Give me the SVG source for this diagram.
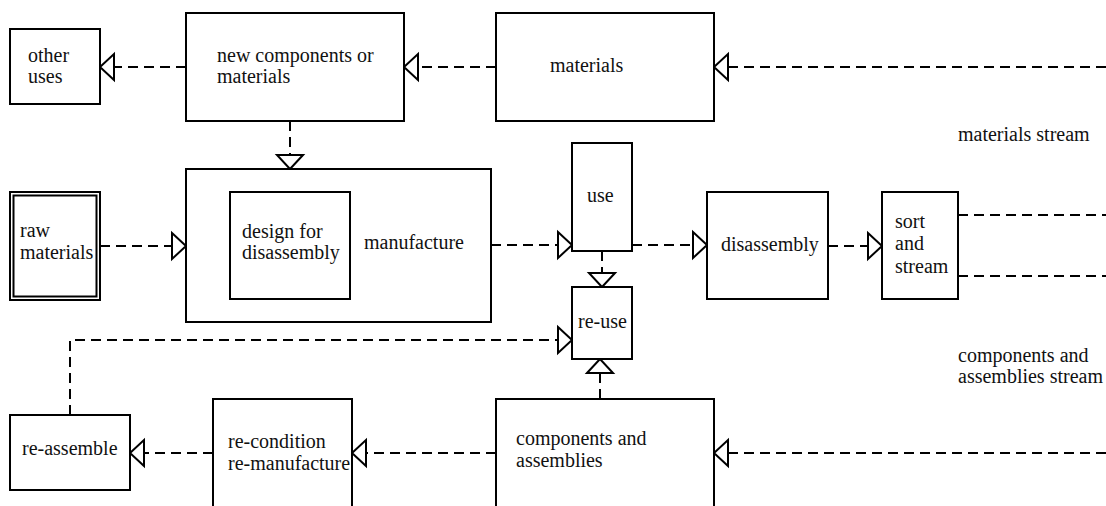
<svg xmlns="http://www.w3.org/2000/svg" width="1106" height="506" viewBox="0 0 1106 506">
  <style>
    .box { fill: #fff; stroke: #000; stroke-width: 2; }
    .lbl { font-family: "Liberation Serif", "Times New Roman", serif; font-size: 20px; fill: #111; }
    .flow { fill: none; stroke: #000; stroke-width: 2; stroke-dasharray: 10 6; }
    .arrow { marker-end: url(#tri); }
  </style>
  <defs>
    <!-- hollow triangular arrowhead -->
    <marker id="tri" viewBox="0 0 14 26" refX="14" refY="13" markerWidth="14" markerHeight="26" markerUnits="userSpaceOnUse" orient="auto" overflow="visible">
      <path d="M0,0 L14,13 L0,26 Z" fill="#fff" stroke="#000" stroke-width="2" stroke-dasharray="none" stroke-linejoin="miter"/>
    </marker>
  </defs>

  <rect width="1106" height="506" fill="#fff"/>

  <!-- connectors -->
  <g id="connectors">
    <path class="flow arrow" d="M186,67 H100"/>
    <path class="flow arrow" d="M496,67 H404"/>
    <path class="flow arrow" d="M1106,67 H714"/>
    <path class="flow arrow" d="M290,121 V169"/>
    <path class="flow arrow" d="M100,246 H186"/>
    <path class="flow arrow" d="M491,245 H572"/>
    <path class="flow arrow" d="M632,245 H707"/>
    <path class="flow arrow" d="M828,246 H882"/>
    <path class="flow" d="M958,215 H1106"/>
    <path class="flow" d="M958,276 H1106"/>
    <path class="flow arrow" d="M602,251 V287"/>
    <path class="flow arrow" d="M70,415 V340 H572"/>
    <path class="flow arrow" d="M600,399 V359"/>
    <path class="flow arrow" d="M213,453 H130"/>
    <path class="flow arrow" d="M496,453 H352"/>
    <path class="flow arrow" d="M1106,453 H714"/>
  </g>

  <g id="other-uses">
    <rect class="box" x="10" y="29" width="90" height="75"/>
    <text class="lbl" x="28" y="62">other</text>
    <text class="lbl" x="28" y="83">uses</text>
  </g>

  <g id="new-components">
    <rect class="box" x="186" y="13" width="218" height="108"/>
    <text class="lbl" x="217" y="62">new components or</text>
    <text class="lbl" x="217" y="83">materials</text>
  </g>

  <g id="materials">
    <rect class="box" x="496" y="13" width="218" height="108"/>
    <text class="lbl" x="550" y="72">materials</text>
  </g>

  <g id="materials-stream">
    <text class="lbl" x="958" y="141">materials stream</text>
  </g>

  <g id="raw-materials">
    <rect class="box" x="10" y="192" width="90" height="108"/>
    <rect class="box" x="13.5" y="195.5" width="83" height="101"/>
    <text class="lbl" x="20" y="237">raw</text>
    <text class="lbl" x="20" y="259">materials</text>
  </g>

  <g id="manufacture">
    <rect class="box" x="186" y="169" width="305" height="153"/>
    <text class="lbl" x="364" y="249">manufacture</text>
  </g>

  <g id="design-for-disassembly">
    <rect class="box" x="230" y="192" width="120" height="107"/>
    <text class="lbl" x="242" y="238">design for</text>
    <text class="lbl" x="242" y="259">disassembly</text>
  </g>

  <g id="use">
    <rect class="box" x="572" y="143" width="60" height="108"/>
    <text class="lbl" x="587" y="202">use</text>
  </g>

  <g id="re-use">
    <rect class="box" x="572" y="287" width="60" height="72"/>
    <text class="lbl" x="578" y="328">re-use</text>
  </g>

  <g id="disassembly">
    <rect class="box" x="707" y="192" width="121" height="107"/>
    <text class="lbl" x="721" y="251">disassembly</text>
  </g>

  <g id="sort-and-stream">
    <rect class="box" x="882" y="192" width="76" height="107"/>
    <text class="lbl" x="895" y="228">sort</text>
    <text class="lbl" x="895" y="250">and</text>
    <text class="lbl" x="895" y="273">stream</text>
  </g>

  <g id="components-stream">
    <text class="lbl" x="958" y="362">components and</text>
    <text class="lbl" x="958" y="383">assemblies stream</text>
  </g>

  <g id="re-assemble">
    <rect class="box" x="10" y="415" width="120" height="75"/>
    <text class="lbl" x="22" y="455">re-assemble</text>
  </g>

  <g id="re-condition">
    <rect class="box" x="213" y="399" width="139" height="120"/>
    <text class="lbl" x="228" y="448">re-condition</text>
    <text class="lbl" x="228" y="470">re-manufacture</text>
  </g>

  <g id="components">
    <rect class="box" x="496" y="399" width="218" height="120"/>
    <text class="lbl" x="516" y="445">components and</text>
    <text class="lbl" x="516" y="467">assemblies</text>
  </g>
</svg>
